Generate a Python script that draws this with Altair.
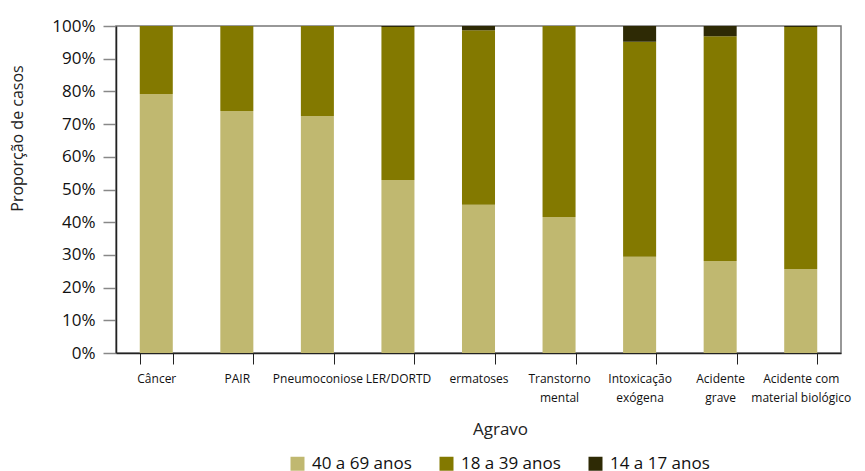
import altair as alt
import pandas as pd

categories = ["Câncer", "PAIR", "Pneumoconiose", "LER/DORTD", "ermatoses",
              "Transtorno|mental", "Intoxicação|exógena", "Acidente|grave",
              "Acidente com|material biológico"]
age_groups = ["40 a 69 anos", "18 a 39 anos", "14 a 17 anos"]
v40_69 = [79.2, 74.0, 72.5, 52.9, 45.3, 41.6, 29.4, 28.1, 25.7]
v18_39 = [20.8, 26.0, 27.5, 46.8, 53.4, 58.4, 65.8, 68.8, 74.0]
v14_17 = [0.0, 0.0, 0.0, 0.3, 1.3, 0.0, 4.8, 3.1, 0.3]
colors = ["#C0B870", "#837900", "#2E2A05"]

rows = []
for i, c in enumerate(categories):
    for k, (g, vals) in enumerate(zip(age_groups, [v40_69, v18_39, v14_17])):
        rows.append({"Agravo": c, "Faixa": g, "ordem": k, "valor": vals[i]})
df = pd.DataFrame(rows)

FONT = "Open Sans"

chart = alt.Chart(df).mark_bar().encode(
    x=alt.X("Agravo:N", sort=categories,
            scale=alt.Scale(paddingInner=0.59, paddingOuter=0.295),
            axis=alt.Axis(title="Agravo", labelAngle=0, labelExpr="split(datum.label, '|')",
                          labelFontSize=12, labelLineHeight=19, labelPadding=9,
                          labelColor="#111", tickBand="extent", tickSize=11,
                          tickColor="#222", domainColor="#222", domainWidth=1.5,
                          titleFontSize=17, titleFontWeight="normal", titleColor="#222",
                          titleX=384, titleY=76, titleBaseline="middle",
                          titleAlign="center")),
    y=alt.Y("valor:Q", stack="zero",
            scale=alt.Scale(domain=[0, 100], nice=False),
            axis=alt.Axis(title="Proporção de casos", values=list(range(0, 101, 10)),
                          labelExpr="datum.value + '%'", labelFontSize=17,
                          labelColor="#111", labelPadding=8, tickSize=13,
                          tickColor="#888", tickWidth=1.5, domainColor="#222",
                          domainWidth=1.5, grid=False, titleFontSize=16,
                          titleFontWeight="normal", titleColor="#222",
                          titleX=-99, titleY=112, titleAngle=270,
                          titleAlign="center", titleBaseline="middle")),
    color=alt.Color("Faixa:N", sort=age_groups,
                    scale=alt.Scale(domain=age_groups, range=colors),
                    legend=alt.Legend(title=None, orient="none", direction="horizontal",
                                      legendX=173, legendY=429, symbolType="square",
                                      symbolSize=196, symbolStrokeWidth=0,
                                      labelFontSize=17, labelColor="#111",
                                      labelOffset=6, columnPadding=26)),
    order=alt.Order("ordem:Q", sort="ascending"),
).properties(
    width=725, height=327,
    autosize=alt.AutoSizeParams(type="none"),
    padding={"left": 108, "top": 18, "right": 16, "bottom": 120},
).configure(font=FONT).configure_view(stroke="#777", strokeWidth=1.5)

chart.save("out.html", embed_options={"renderer": "svg", "actions": False})
